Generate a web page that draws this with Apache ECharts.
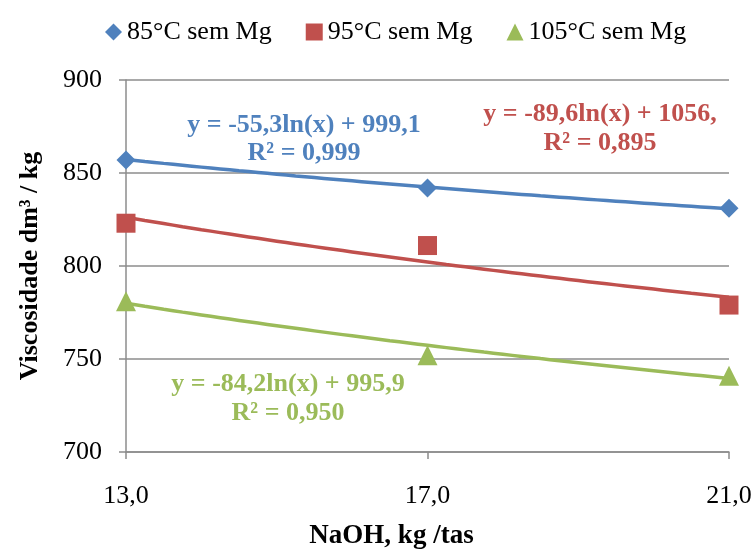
<!DOCTYPE html>
<html>
<head>
<meta charset="utf-8">
<script src="https://cdn.jsdelivr.net/npm/echarts@6/dist/echarts.min.js"></script>
<style>
  html, body { margin: 0; padding: 0; background: #fff; }
  #chart { width: 754px; height: 554px; }
</style>
</head>
<body>
<div id="chart"></div>
<script>
// NaOH dose (kg/tas) and measured viscosity (dm³/kg) per cooking temperature
const naoh = [13, 17, 21];
const visc85 = [857, 842, 831];
const visc95 = [823, 811, 779];
const visc105 = [781, 752, 741];

const seriesNames = ['85°C sem Mg', '95°C sem Mg', '105°C sem Mg'];
const colors = ['#4F81BD', '#C0504D', '#9BBB59'];
const symbols = ['diamond', 'rect', 'triangle'];

// Logarithmic trend lines y = a·ln(x) + b
const trendA = [-55.3, -89.6, -84.2];
const trendB = [999.1, 1056, 995.9];
const trendLabels = [
  ['y = -55,3ln(x) + 999,1', 'R² = 0,999'],
  ['y = -89,6ln(x) + 1056,', 'R² = 0,895'],
  ['y = -84,2ln(x) + 995,9', 'R² = 0,950']
];

const yTicks = [700, 750, 800, 850, 900];

const FONT = '"Liberation Serif", "Times New Roman", serif';
const GRID_GRAY = '#8C8C8C';

function trendPoints(a, b) {
  const pts = [];
  for (let x = naoh[0]; x <= naoh[naoh.length - 1] + 1e-9; x += 0.25) {
    pts.push([x, a * Math.log(x) + b]);
  }
  return pts;
}

const dataSets = [visc85, visc95, visc105];

const series = [];
dataSets.forEach((vals, i) => {
  series.push({
    name: seriesNames[i] + ' (tendência)',
    type: 'line',
    data: trendPoints(trendA[i], trendB[i]),
    showSymbol: false,
    smooth: true,
    silent: true,
    lineStyle: { color: colors[i], width: 3.5 },
    z: 2
  });
});
const symbolSizes = { diamond: 19, rect: 19, triangle: 20 };
dataSets.forEach((vals, i) => {
  series.push({
    name: seriesNames[i],
    type: 'scatter',
    data: naoh.map((x, k) => [x, vals[k]]),
    symbol: symbols[i],
    symbolSize: symbolSizes[symbols[i]],
    itemStyle: { color: colors[i], opacity: 1 },
    z: 3
  });
});

const chart = echarts.init(document.getElementById('chart'));

// Equation / R² annotations, centred on each text line
const labelPos = [
  [304, 125, 153],
  [600, 114, 143],
  [288, 384, 413]
];
const graphics = [];
trendLabels.forEach((lines, i) => {
  lines.forEach((t, j) => {
    graphics.push({
      type: 'text',
      x: labelPos[i][0],
      y: labelPos[i][j + 1],
      style: {
        text: t,
        fill: colors[i],
        font: 'bold 26px ' + FONT,
        textAlign: 'center',
        textVerticalAlign: 'middle'
      }
    });
  });
});

chart.setOption({
  animation: false,
  backgroundColor: '#ffffff',
  color: colors,
  textStyle: { fontFamily: FONT },
  grid: { left: 126, right: 25, top: 80, bottom: 102, containLabel: false, outerBoundsMode: 'none' },
  legend: {
    data: seriesNames.map((n, i) => ({ name: n, icon: symbols[i] })),
    top: 14,
    left: 100,
    width: 700,
    itemWidth: 17,
    itemHeight: 17,
    itemGap: 34,
    textStyle: { fontFamily: FONT, fontSize: 26, color: '#000' }
  },
  xAxis: {
    type: 'value',
    min: naoh[0],
    max: naoh[naoh.length - 1],
    name: 'NaOH, kg /tas',
    nameLocation: 'middle',
    nameGap: 71,
    nameTextStyle: { fontFamily: FONT, fontSize: 27, fontWeight: 'bold', color: '#000', padding: [0, 72, 0, 0] },
    axisLine: { lineStyle: { color: GRID_GRAY, width: 1.5 } },
    axisTick: { show: true, customValues: naoh, length: 7, lineStyle: { color: GRID_GRAY, width: 1.5 } },
    axisLabel: {
      customValues: naoh,
      formatter: v => v.toFixed(1).replace('.', ','),
      fontFamily: FONT, fontSize: 26, color: '#000', margin: 31
    },
    splitLine: { show: false }
  },
  yAxis: {
    type: 'value',
    min: yTicks[0],
    max: yTicks[yTicks.length - 1],
    interval: 50,
    name: 'Viscosidade dm³ / kg',
    nameLocation: 'middle',
    nameGap: 83,
    nameRotate: 90,
    nameTextStyle: { fontFamily: FONT, fontSize: 26, fontWeight: 'bold', color: '#000' },
    axisLine: { show: true, lineStyle: { color: GRID_GRAY, width: 1.5 } },
    axisTick: { show: true, length: 7, lineStyle: { color: GRID_GRAY, width: 1.5 } },
    axisLabel: { fontFamily: FONT, fontSize: 26, color: '#000', margin: 24 },
    splitLine: { show: true, lineStyle: { color: GRID_GRAY, width: 1.5 } }
  },
  graphic: graphics,
  series: series
});
</script>
</body>
</html>
